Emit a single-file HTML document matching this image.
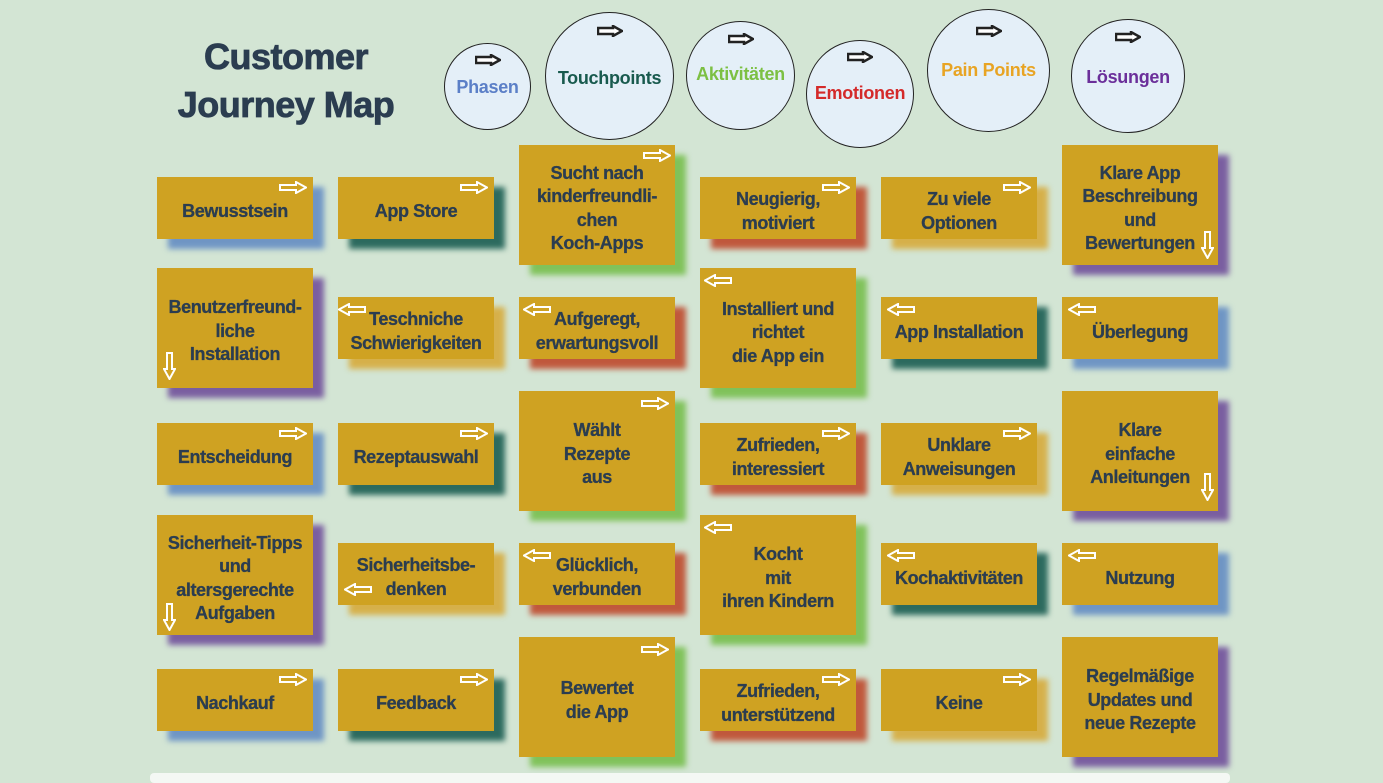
<!DOCTYPE html>
<html><head><meta charset="utf-8"><style>
body{margin:0;width:1383px;height:778px;background:#d3e5d4;position:relative;overflow:hidden;font-family:"Liberation Sans",sans-serif;}
.t{position:absolute;color:#2b3d50;font-weight:bold;font-size:36px;text-align:center;width:300px;left:136px;letter-spacing:-0.5px;-webkit-text-stroke:0.8px #2b3d50}
.c{position:absolute;border:1.5px solid #222;border-radius:50%;background:#e4eff8;box-sizing:border-box;display:flex;align-items:center;justify-content:center;font-weight:bold;font-size:18px;letter-spacing:-0.3px}
.c svg{position:absolute;left:50%;margin-left:-13px}
.b{position:absolute;width:156px;background:#cfa222;color:#2b3d50;font-weight:bold;font-size:18px;line-height:23.5px;text-align:center;display:flex;align-items:center;justify-content:center;letter-spacing:-0.4px;padding-top:7px;box-sizing:border-box;-webkit-text-stroke:0.3px #2b3d50}
.b svg{position:absolute}
.s{position:absolute;width:156px;filter:blur(3px)}
.foot{position:absolute;left:150px;top:773px;width:1080px;height:10px;background:#f4f8f4;border-radius:4px}
</style></head><body>
<div class="t" style="top:36px">Customer</div>
<div class="t" style="top:84px">Journey Map</div>

<div class="c" style="left:444px;top:43px;width:87px;height:87px;color:#5b7fc7"><svg style="top:10px" width="26" height="12" viewBox="0 0 26 12"><polygon points="1,3 16,3 16,1 25,6 16,11 16,9 1,9" fill="#fff" stroke="#222" stroke-width="2.5"/></svg><span style="margin-top:2px">Phasen</span></div>
<div class="c" style="left:545px;top:12px;width:129px;height:128px;color:#185a4e"><svg style="top:12px" width="26" height="12" viewBox="0 0 26 12"><polygon points="1,3 16,3 16,1 25,6 16,11 16,9 1,9" fill="#fff" stroke="#222" stroke-width="2.5"/></svg><span style="margin-top:4px">Touchpoints</span></div>
<div class="c" style="left:686px;top:21px;width:109px;height:109px;color:#7cc043"><svg style="top:11px" width="26" height="12" viewBox="0 0 26 12"><polygon points="1,3 16,3 16,1 25,6 16,11 16,9 1,9" fill="#fff" stroke="#222" stroke-width="2.5"/></svg><span style="margin-top:-2px">Aktivitäten</span></div>
<div class="c" style="left:806px;top:40px;width:108px;height:108px;color:#d42a2a"><svg style="top:10px" width="26" height="12" viewBox="0 0 26 12"><polygon points="1,3 16,3 16,1 25,6 16,11 16,9 1,9" fill="#fff" stroke="#222" stroke-width="2.5"/></svg><span style="margin-top:-2px">Emotionen</span></div>
<div class="c" style="left:927px;top:9px;width:123px;height:123px;color:#e8a424"><svg style="top:15px" width="26" height="12" viewBox="0 0 26 12"><polygon points="1,3 16,3 16,1 25,6 16,11 16,9 1,9" fill="#fff" stroke="#222" stroke-width="2.5"/></svg><span style="margin-top:0px">Pain Points</span></div>
<div class="c" style="left:1071px;top:19px;width:114px;height:114px;color:#6b2f9a"><svg style="top:11px" width="26" height="12" viewBox="0 0 26 12"><polygon points="1,3 16,3 16,1 25,6 16,11 16,9 1,9" fill="#fff" stroke="#222" stroke-width="2.5"/></svg><span style="margin-top:2px">Lösungen</span></div>

<!-- shadows -->
<div class="s" style="left:168px;top:187px;height:62px;background:#6f95c4"></div>
<div class="s" style="left:349px;top:187px;height:62px;background:#2c6a5e"></div>
<div class="s" style="left:530px;top:155px;height:120px;background:#80c25a"></div>
<div class="s" style="left:711px;top:187px;height:62px;background:#c0583c"></div>
<div class="s" style="left:892px;top:187px;height:62px;background:#d6b04a"></div>
<div class="s" style="left:1073px;top:155px;height:120px;background:#7a5ea0"></div>

<div class="s" style="left:168px;top:278px;height:120px;background:#7a5ea0"></div>
<div class="s" style="left:349px;top:307px;height:62px;background:#d6b04a"></div>
<div class="s" style="left:530px;top:307px;height:62px;background:#c0583c"></div>
<div class="s" style="left:711px;top:278px;height:120px;background:#80c25a"></div>
<div class="s" style="left:892px;top:307px;height:62px;background:#2c6a5e"></div>
<div class="s" style="left:1073px;top:307px;height:62px;background:#6f95c4"></div>

<div class="s" style="left:168px;top:433px;height:62px;background:#6f95c4"></div>
<div class="s" style="left:349px;top:433px;height:62px;background:#2c6a5e"></div>
<div class="s" style="left:530px;top:401px;height:120px;background:#80c25a"></div>
<div class="s" style="left:711px;top:433px;height:62px;background:#c0583c"></div>
<div class="s" style="left:892px;top:433px;height:62px;background:#d6b04a"></div>
<div class="s" style="left:1073px;top:401px;height:120px;background:#7a5ea0"></div>

<div class="s" style="left:168px;top:525px;height:120px;background:#7a5ea0"></div>
<div class="s" style="left:349px;top:553px;height:62px;background:#d6b04a"></div>
<div class="s" style="left:530px;top:553px;height:62px;background:#c0583c"></div>
<div class="s" style="left:711px;top:525px;height:120px;background:#80c25a"></div>
<div class="s" style="left:892px;top:553px;height:62px;background:#2c6a5e"></div>
<div class="s" style="left:1073px;top:553px;height:62px;background:#6f95c4"></div>

<div class="s" style="left:168px;top:679px;height:62px;background:#6f95c4"></div>
<div class="s" style="left:349px;top:679px;height:62px;background:#2c6a5e"></div>
<div class="s" style="left:530px;top:647px;height:120px;background:#80c25a"></div>
<div class="s" style="left:711px;top:679px;height:62px;background:#c0583c"></div>
<div class="s" style="left:892px;top:679px;height:62px;background:#d6b04a"></div>
<div class="s" style="left:1073px;top:647px;height:120px;background:#7a5ea0"></div>

<!-- boxes row1 -->
<div class="b" style="left:157px;top:177px;height:62px">Bewusstsein<svg style="right:6px;top:4px" width="28" height="13"><polygon points="1,4 17,4 17,1 27,6.5 17,12 17,9 1,9" fill="none" stroke="#fff" stroke-width="2"/></svg></div>
<div class="b" style="left:338px;top:177px;height:62px">App Store<svg style="right:6px;top:4px" width="28" height="13"><polygon points="1,4 17,4 17,1 27,6.5 17,12 17,9 1,9" fill="none" stroke="#fff" stroke-width="2"/></svg></div>
<div class="b" style="left:519px;top:145px;height:120px">Sucht nach<br>kinderfreundli-<br>chen<br>Koch-Apps<svg style="right:4px;top:4px" width="28" height="13"><polygon points="1,4 17,4 17,1 27,6.5 17,12 17,9 1,9" fill="none" stroke="#fff" stroke-width="2"/></svg></div>
<div class="b" style="left:700px;top:177px;height:62px">Neugierig,<br>motiviert<svg style="right:6px;top:4px" width="28" height="13"><polygon points="1,4 17,4 17,1 27,6.5 17,12 17,9 1,9" fill="none" stroke="#fff" stroke-width="2"/></svg></div>
<div class="b" style="left:881px;top:177px;height:62px">Zu viele<br>Optionen<svg style="right:6px;top:4px" width="28" height="13"><polygon points="1,4 17,4 17,1 27,6.5 17,12 17,9 1,9" fill="none" stroke="#fff" stroke-width="2"/></svg></div>
<div class="b" style="left:1062px;top:145px;height:120px">Klare App<br>Beschreibung<br>und<br>Bewertungen<svg style="right:4px;bottom:6px" width="13" height="28"><polygon points="4,1 4,17 1,17 6.5,27 12,17 9,17 9,1" fill="none" stroke="#fff" stroke-width="2"/></svg></div>

<!-- row2 -->
<div class="b" style="left:157px;top:268px;height:120px">Benutzerfreund-<br>liche<br>Installation<svg style="left:6px;bottom:8px" width="13" height="28"><polygon points="4,1 4,17 1,17 6.5,27 12,17 9,17 9,1" fill="none" stroke="#fff" stroke-width="2"/></svg></div>
<div class="b" style="left:338px;top:297px;height:62px">Teschniche<br>Schwierigkeiten<svg style="left:0px;top:6px" width="28" height="13"><polygon points="27,4 11,4 11,1 1,6.5 11,12 11,9 27,9" fill="none" stroke="#fff" stroke-width="2"/></svg></div>
<div class="b" style="left:519px;top:297px;height:62px">Aufgeregt,<br>erwartungsvoll<svg style="left:4px;top:6px" width="28" height="13"><polygon points="27,4 11,4 11,1 1,6.5 11,12 11,9 27,9" fill="none" stroke="#fff" stroke-width="2"/></svg></div>
<div class="b" style="left:700px;top:268px;height:120px;padding-top:10px">Installiert und<br>richtet<br>die App ein<svg style="left:4px;top:6px" width="28" height="13"><polygon points="27,4 11,4 11,1 1,6.5 11,12 11,9 27,9" fill="none" stroke="#fff" stroke-width="2"/></svg></div>
<div class="b" style="left:881px;top:297px;height:62px;padding-top:9px">App Installation<svg style="left:6px;top:6px" width="28" height="13"><polygon points="27,4 11,4 11,1 1,6.5 11,12 11,9 27,9" fill="none" stroke="#fff" stroke-width="2"/></svg></div>
<div class="b" style="left:1062px;top:297px;height:62px;padding-top:9px">Überlegung<svg style="left:6px;top:6px" width="28" height="13"><polygon points="27,4 11,4 11,1 1,6.5 11,12 11,9 27,9" fill="none" stroke="#fff" stroke-width="2"/></svg></div>

<!-- row3 -->
<div class="b" style="left:157px;top:423px;height:62px">Entscheidung<svg style="right:6px;top:4px" width="28" height="13"><polygon points="1,4 17,4 17,1 27,6.5 17,12 17,9 1,9" fill="none" stroke="#fff" stroke-width="2"/></svg></div>
<div class="b" style="left:338px;top:423px;height:62px">Rezeptauswahl<svg style="right:6px;top:4px" width="28" height="13"><polygon points="1,4 17,4 17,1 27,6.5 17,12 17,9 1,9" fill="none" stroke="#fff" stroke-width="2"/></svg></div>
<div class="b" style="left:519px;top:391px;height:120px">Wählt<br>Rezepte<br>aus<svg style="right:6px;top:6px" width="28" height="13"><polygon points="1,4 17,4 17,1 27,6.5 17,12 17,9 1,9" fill="none" stroke="#fff" stroke-width="2"/></svg></div>
<div class="b" style="left:700px;top:423px;height:62px">Zufrieden,<br>interessiert<svg style="right:6px;top:4px" width="28" height="13"><polygon points="1,4 17,4 17,1 27,6.5 17,12 17,9 1,9" fill="none" stroke="#fff" stroke-width="2"/></svg></div>
<div class="b" style="left:881px;top:423px;height:62px">Unklare<br>Anweisungen<svg style="right:6px;top:4px" width="28" height="13"><polygon points="1,4 17,4 17,1 27,6.5 17,12 17,9 1,9" fill="none" stroke="#fff" stroke-width="2"/></svg></div>
<div class="b" style="left:1062px;top:391px;height:120px">Klare<br>einfache<br>Anleitungen<svg style="right:4px;bottom:10px" width="13" height="28"><polygon points="4,1 4,17 1,17 6.5,27 12,17 9,17 9,1" fill="none" stroke="#fff" stroke-width="2"/></svg></div>

<!-- row4 -->
<div class="b" style="left:157px;top:515px;height:120px">Sicherheit-Tipps<br>und<br>altersgerechte<br>Aufgaben<svg style="left:6px;bottom:4px" width="13" height="28"><polygon points="4,1 4,17 1,17 6.5,27 12,17 9,17 9,1" fill="none" stroke="#fff" stroke-width="2"/></svg></div>
<div class="b" style="left:338px;top:543px;height:62px">Sicherheitsbe-<br>denken<svg style="left:6px;top:40px" width="28" height="13"><polygon points="27,4 11,4 11,1 1,6.5 11,12 11,9 27,9" fill="none" stroke="#fff" stroke-width="2"/></svg></div>
<div class="b" style="left:519px;top:543px;height:62px">Glücklich,<br>verbunden<svg style="left:4px;top:6px" width="28" height="13"><polygon points="27,4 11,4 11,1 1,6.5 11,12 11,9 27,9" fill="none" stroke="#fff" stroke-width="2"/></svg></div>
<div class="b" style="left:700px;top:515px;height:120px">Kocht<br>mit<br>ihren Kindern<svg style="left:4px;top:6px" width="28" height="13"><polygon points="27,4 11,4 11,1 1,6.5 11,12 11,9 27,9" fill="none" stroke="#fff" stroke-width="2"/></svg></div>
<div class="b" style="left:881px;top:543px;height:62px;padding-top:9px">Kochaktivitäten<svg style="left:6px;top:6px" width="28" height="13"><polygon points="27,4 11,4 11,1 1,6.5 11,12 11,9 27,9" fill="none" stroke="#fff" stroke-width="2"/></svg></div>
<div class="b" style="left:1062px;top:543px;height:62px;padding-top:9px">Nutzung<svg style="left:6px;top:6px" width="28" height="13"><polygon points="27,4 11,4 11,1 1,6.5 11,12 11,9 27,9" fill="none" stroke="#fff" stroke-width="2"/></svg></div>

<!-- row5 -->
<div class="b" style="left:157px;top:669px;height:62px">Nachkauf<svg style="right:6px;top:4px" width="28" height="13"><polygon points="1,4 17,4 17,1 27,6.5 17,12 17,9 1,9" fill="none" stroke="#fff" stroke-width="2"/></svg></div>
<div class="b" style="left:338px;top:669px;height:62px">Feedback<svg style="right:6px;top:4px" width="28" height="13"><polygon points="1,4 17,4 17,1 27,6.5 17,12 17,9 1,9" fill="none" stroke="#fff" stroke-width="2"/></svg></div>
<div class="b" style="left:519px;top:637px;height:120px">Bewertet<br>die App<svg style="right:6px;top:6px" width="28" height="13"><polygon points="1,4 17,4 17,1 27,6.5 17,12 17,9 1,9" fill="none" stroke="#fff" stroke-width="2"/></svg></div>
<div class="b" style="left:700px;top:669px;height:62px">Zufrieden,<br>unterstützend<svg style="right:6px;top:4px" width="28" height="13"><polygon points="1,4 17,4 17,1 27,6.5 17,12 17,9 1,9" fill="none" stroke="#fff" stroke-width="2"/></svg></div>
<div class="b" style="left:881px;top:669px;height:62px">Keine<svg style="right:6px;top:4px" width="28" height="13"><polygon points="1,4 17,4 17,1 27,6.5 17,12 17,9 1,9" fill="none" stroke="#fff" stroke-width="2"/></svg></div>
<div class="b" style="left:1062px;top:637px;height:120px">Regelmäßige<br>Updates und<br>neue Rezepte</div>

<div class="foot"></div>
</body></html>
